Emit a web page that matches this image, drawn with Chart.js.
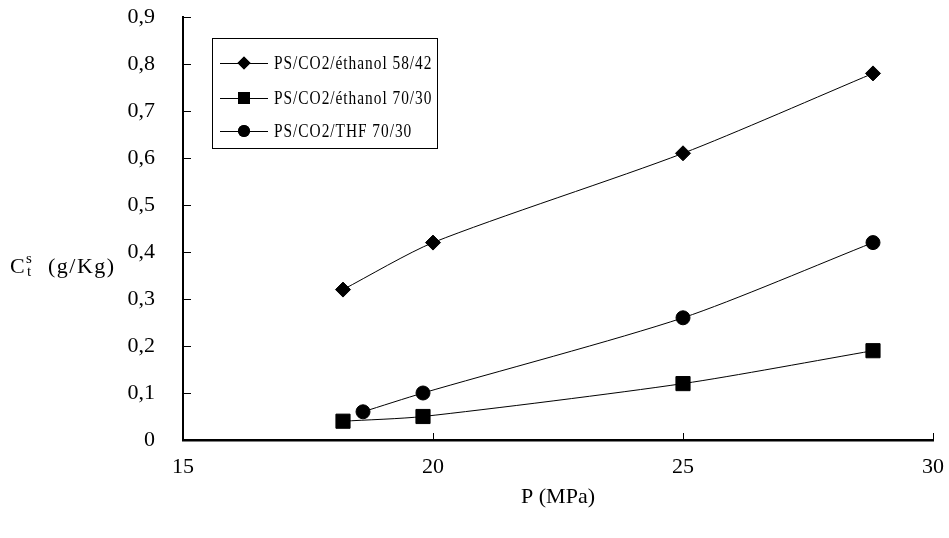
<!DOCTYPE html>
<html lang="fr">
<head>
  <meta charset="UTF-8" />
  <title>Cst vs P</title>
  <script src="https://cdn.jsdelivr.net/npm/chart.js"></script>
  <style>
    html, body { margin: 0; padding: 0; background: #fff; }
    #wrap { width: 949px; height: 538px; }
  </style>
</head>
<body>
  <div id="wrap"><canvas id="chart" width="949" height="538"></canvas></div>
  <script>
    // values
    const labels = ['PS/CO2/éthanol 58/42', 'PS/CO2/éthanol 70/30', 'PS/CO2/THF 70/30'];
    const p5842 = [18.2, 20, 25, 28.8];
    const c5842 = [0.32, 0.42, 0.61, 0.78];
    const p7030 = [18.2, 19.8, 25, 28.8];
    const c7030 = [0.04, 0.05, 0.12, 0.19];
    const pThf = [18.6, 19.8, 25, 28.8];
    const cThf = [0.06, 0.10, 0.26, 0.42];
    const xTicks = [15, 20, 25, 30];
    const yTicks = [0, 0.1, 0.2, 0.3, 0.4, 0.5, 0.6, 0.7, 0.8, 0.9];

    const serif = '"Liberation Serif", "Times New Roman", serif';
    const pts = (xs, ys) => xs.map((x, i) => ({ x: x, y: ys[i] }));
    const styles = [
      { pointStyle: 'rectRot', pointRadius: 7.5, legendRadius: 6.5 },
      { pointStyle: 'rect', pointRadius: 10, legendRadius: 8.5 },
      { pointStyle: 'circle', pointRadius: 7, legendRadius: 6 }
    ];
    const series = [pts(p5842, c5842), pts(p7030, c7030), pts(pThf, cThf)];

    const datasets = series.map((d, i) => ({
      label: labels[i],
      data: d,
      borderColor: '#000',
      backgroundColor: '#000',
      borderWidth: 1,
      pointStyle: styles[i].pointStyle,
      pointRadius: styles[i].pointRadius,
      pointHoverRadius: styles[i].pointRadius,
      tension: 0.25
    }));

    // inner tick marks, y axis title and boxed legend
    const extras = {
      id: 'extras',
      afterDraw(chart) {
        const ctx = chart.ctx;
        const xs = chart.scales.x, ys = chart.scales.y;
        const area = chart.chartArea;
        ctx.save();
        ctx.strokeStyle = '#000';
        ctx.lineWidth = 1;
        ctx.beginPath();
        xTicks.slice(1).forEach(v => {
          const px = Math.round(xs.getPixelForValue(v)) + 0.5;
          ctx.moveTo(px, area.bottom);
          ctx.lineTo(px, area.bottom - 7);
        });
        yTicks.slice(1).forEach(v => {
          const py = Math.round(ys.getPixelForValue(v)) + 0.5;
          ctx.moveTo(area.left, py);
          ctx.lineTo(area.left + 8, py);
        });
        ctx.stroke();

        // y title: C^s_t (g/Kg)
        ctx.fillStyle = '#000';
        ctx.textBaseline = 'alphabetic';
        ctx.textAlign = 'left';
        const ty = 273;
        ctx.font = '22px ' + serif;
        ctx.fillText('C', 10, ty);
        ctx.font = '15px ' + serif;
        ctx.fillText('s', 26, ty - 10);
        ctx.fillText('t', 27, ty + 3);
        ctx.font = '22px ' + serif;
        ctx.letterSpacing = '1.5px';
        ctx.fillText('(g/Kg)', 48, ty);
        ctx.letterSpacing = '0px';

        // legend box
        const bx = 212, by = 38, bw = 225, bh = 110;
        ctx.strokeStyle = '#000';
        ctx.lineWidth = 1;
        ctx.strokeRect(bx + 0.5, by + 0.5, bw, bh);
        ctx.textBaseline = 'middle';
        const rowY = [63, 98, 131];
        chart.data.datasets.forEach((ds, i) => {
          const y = rowY[i];
          ctx.beginPath();
          ctx.moveTo(220, y + 0.5);
          ctx.lineTo(268, y + 0.5);
          ctx.stroke();
          Chart.helpers.drawPoint(ctx, { pointStyle: ds.pointStyle, radius: styles[i].legendRadius, borderWidth: 0 }, 244, y);
          ctx.fill();
          ctx.save();
          ctx.translate(274, y + 1);
          ctx.scale(0.81, 1);
          ctx.font = '19px ' + serif;
          ctx.letterSpacing = '1.2px';
          ctx.fillText(ds.label, 0, 0);
          ctx.restore();
        });
        ctx.restore();
      }
    };

    new Chart(document.getElementById('chart').getContext('2d'), {
      type: 'line',
      data: { datasets: datasets },
      plugins: [extras],
      options: {
        responsive: false,
        animation: false,
        layout: { padding: { left: 123, right: 16, top: 17, bottom: 0 } },
        plugins: { legend: { display: false }, tooltip: { enabled: false } },
        scales: {
          x: {
            type: 'linear',
            min: 15,
            max: 30,
            afterBuildTicks: s => { s.ticks = xTicks.map(v => ({ value: v })); },
            afterFit: s => { s.height = 98; s.paddingLeft = 0; s.paddingRight = 0; },
            grid: { display: false },
            border: { color: '#000', width: 2.5 },
            ticks: { color: '#000', font: { family: serif, size: 22 }, padding: 6, maxRotation: 0 },
            title: { display: true, text: 'P (MPa)', color: '#000', font: { family: serif, size: 22 }, padding: { top: 4, bottom: 28 } }
          },
          y: {
            min: 0,
            max: 0.9,
            afterBuildTicks: s => { s.ticks = yTicks.map(v => ({ value: v })); },
            afterFit: s => { s.width = 60; s.paddingTop = 0; s.paddingBottom = 0; },
            grid: { display: false },
            border: { color: '#000', width: 2 },
            ticks: {
              color: '#000',
              font: { family: serif, size: 22 },
              padding: 20,
              callback: v => v === 0 ? '0' : v.toFixed(1).replace('.', ',')
            }
          }
        }
      }
    });
  </script>
</body>
</html>
